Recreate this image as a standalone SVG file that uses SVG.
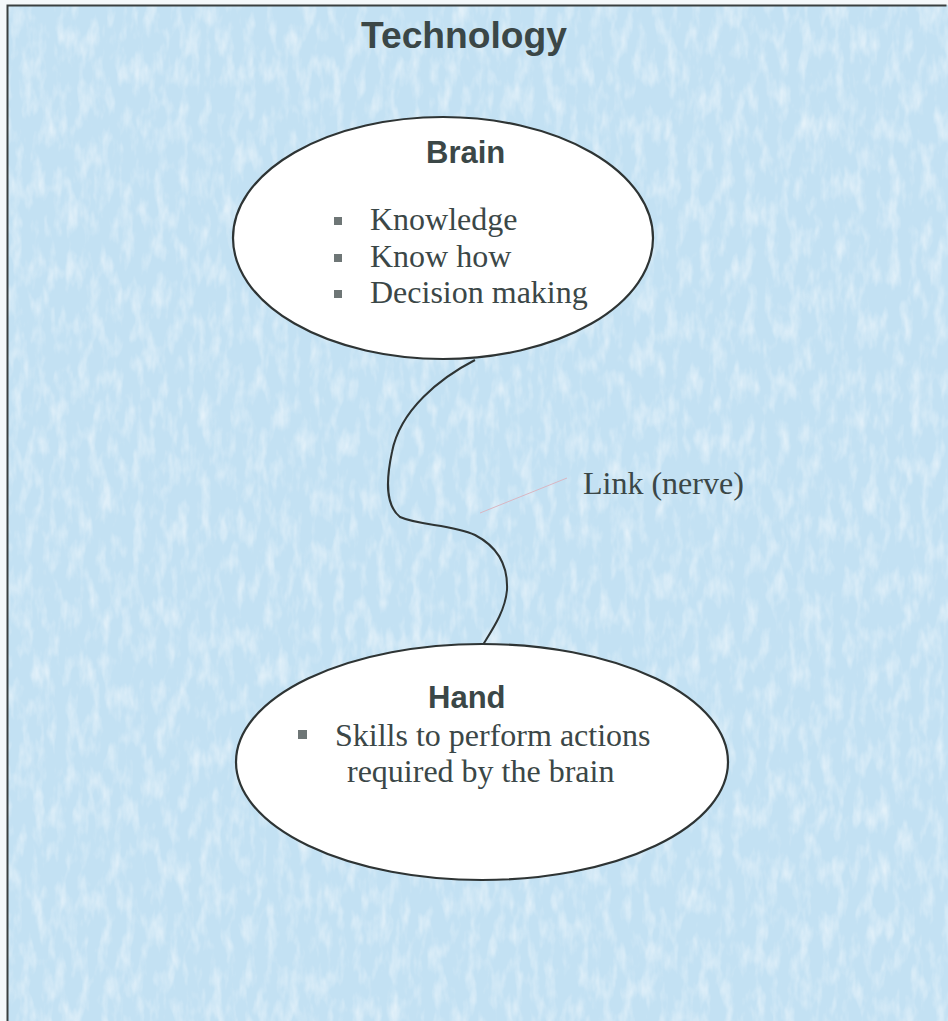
<svg xmlns="http://www.w3.org/2000/svg" width="948" height="1021" viewBox="0 0 948 1021">
  <defs>
    <filter id="paper" x="0" y="0" width="100%" height="100%">
      <feTurbulence type="fractalNoise" baseFrequency="0.09 0.035" numOctaves="3" seed="7" result="n"/>
      <feColorMatrix in="n" type="matrix" values="0 0 0 0 1  0 0 0 0 1  0 0 0 0 1  0 0 0 1.8 -0.8" result="w"/>
      <feComposite in="w" in2="SourceGraphic" operator="in"/>
    </filter>
    <style>
      .title { font-family: "Liberation Sans", Arial, sans-serif; font-weight: bold; fill: #3b4747; }
      .body { font-family: "Liberation Serif", "Times New Roman", serif; fill: #3b4747; font-size: 32px; }
      .node { fill: #ffffff; stroke: #2e3434; stroke-width: 2.2; }
      .bullet { fill: #6e7676; }
    </style>
  </defs>

  <!-- page and textured panel -->
  <rect x="0" y="0" width="948" height="1021" fill="#f4f8fa"/>
  <rect x="7" y="5" width="941" height="1016" fill="#c3e1f3"/>
  <rect x="7" y="5" width="941" height="1016" fill="#c3e1f3" filter="url(#paper)" opacity="0.6"/>
  <path d="M7.5 1021 V5.5 H946.5" fill="none" stroke="#3a4040" stroke-width="2"/>

  <text class="title" x="361" y="48" font-size="37" textLength="206" lengthAdjust="spacingAndGlyphs">Technology</text>

  <!-- connectors -->
  <g id="connectors">
    <path d="M475 360 C440 378 400 410 392 452 C386 480 385 505 400 517 C420 526 452 524 475 535 C500 548 508 568 507 590 C505 612 492 630 481 648" fill="none" stroke="#2e3434" stroke-width="2"/>
    <path d="M480 513 L567 478" fill="none" stroke="#d9b6c2" stroke-width="1"/>
    <text class="body" x="583" y="494">Link (nerve)</text>
  </g>

  <g id="brain">
    <ellipse class="node" cx="443" cy="238" rx="210" ry="121"/>
    <text class="title" x="426" y="163" font-size="31">Brain</text>
    <rect class="bullet" x="334" y="217" width="8" height="8"/>
    <text class="body" x="370" y="230">Knowledge</text>
    <rect class="bullet" x="334" y="254" width="8" height="8"/>
    <text class="body" x="370" y="267">Know how</text>
    <rect class="bullet" x="334" y="290" width="8" height="8"/>
    <text class="body" x="370" y="303">Decision making</text>
  </g>

  <g id="hand">
    <ellipse class="node" cx="482" cy="762" rx="246" ry="118"/>
    <text class="title" x="428" y="708" font-size="31">Hand</text>
    <rect class="bullet" x="298" y="730" width="9" height="9"/>
    <text class="body" x="335" y="746">Skills to perform actions</text>
    <text class="body" x="347" y="782">required by the brain</text>
  </g>
</svg>
